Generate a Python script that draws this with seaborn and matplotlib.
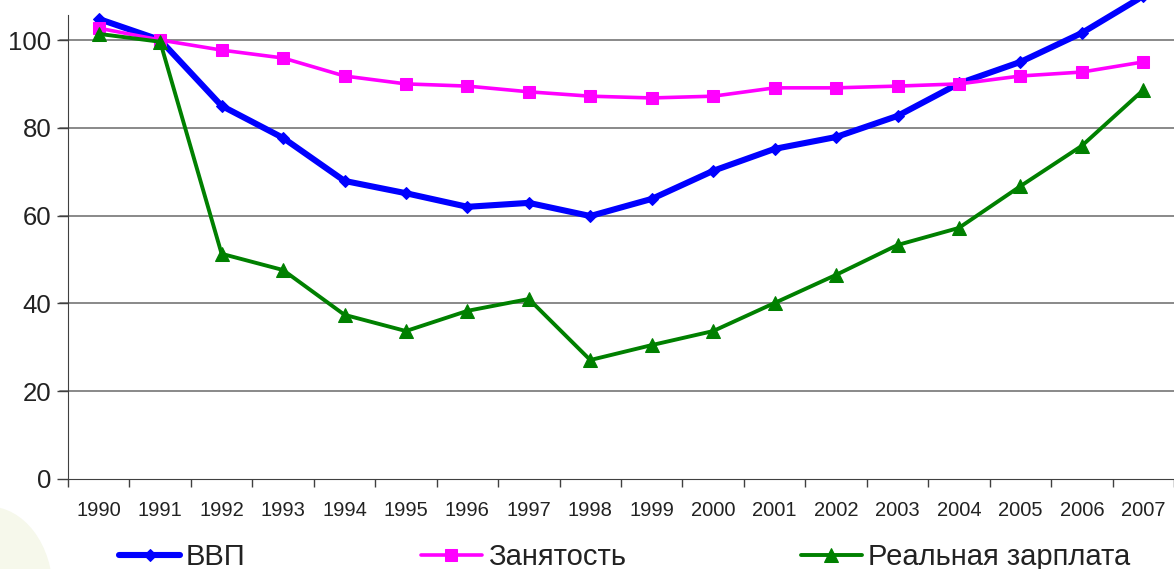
import numpy as np
import pandas as pd
import matplotlib
matplotlib.use("Agg")
import matplotlib.pyplot as plt
import seaborn as sns
from matplotlib.patches import Ellipse

# -----------------------
# Data (index, 1991 = 100)
# -----------------------
years = [str(y) for y in range(1990, 2008)]
gdp = [104.8, 100.0, 85.0, 77.7, 67.9, 65.1, 62.0, 62.9, 59.9, 63.8,
       70.2, 75.2, 77.9, 82.7, 90.1, 95.0, 101.6, 110.0]
employment = [102.7, 100.0, 97.7, 95.9, 91.8, 90.0, 89.5, 88.2, 87.2, 86.8,
              87.2, 89.1, 89.1, 89.5, 90.0, 91.8, 92.7, 95.0]
real_wage = [101.4, 99.6, 51.3, 47.6, 37.4, 33.7, 38.3, 41.0, 27.1, 30.5,
             33.7, 40.1, 46.5, 53.3, 57.2, 66.7, 75.9, 88.6]
labels = ["ВВП", "Занятость", "Реальная зарплата"]
y_ticks = [0, 20, 40, 60, 80, 100]

pos = np.arange(len(years))

sns.set_style("white")
plt.rcParams['font.family'] = ['Liberation Sans', 'DejaVu Sans']

fig = plt.figure(figsize=(11.74, 5.69), dpi=100)

# faint decorative background in the lower-left corner
fig.patches.append(Ellipse((-0.01, -0.04), 0.11, 0.3, transform=fig.transFigure,
                           facecolor="#f6f8eb", edgecolor="none", zorder=-1))

ax = fig.add_axes([68 / 1174, 90 / 569, 1 - 68 / 1174, 479 / 569])
ax.patch.set_alpha(0)

sns.lineplot(x=pos, y=gdp, ax=ax, color="#0000ff", lw=4.4, marker="D",
             markersize=6, markeredgecolor="#0000ff", label=labels[0])
sns.lineplot(x=pos, y=employment, ax=ax, color="#ff00ff", lw=2.6, marker="s",
             markersize=8, markeredgecolor="#ff00ff", label=labels[1])
sns.lineplot(x=pos, y=real_wage, ax=ax, color="#008000", lw=2.8, marker="^",
             markersize=10, markeredgecolor="#008000", label=labels[2])

ymax = 479 / 4.39
ax.set_ylim(0, ymax)
ax.set_xlim(-0.5, 17.35)

for y in y_ticks[1:]:
    ax.axhline(y, xmin=-8 / 1106, color="#808080", lw=1.3, zorder=0, clip_on=False)

ax.set_yticks(y_ticks)
ax.set_yticklabels([str(v) for v in y_ticks], fontsize=18.5, color="#222222")
ax.tick_params(axis="y", left=True, length=8, width=1, color="#404040", direction="out", pad=4)

ax.set_xticks(pos)
ax.set_xticklabels(years, fontsize=14.5, color="#222222")
ax.set_xticks(np.arange(-0.5, 18.0, 1.0), minor=True)
ax.tick_params(axis="x", which="major", bottom=False, length=0, pad=16)
ax.tick_params(axis="x", which="minor", bottom=True, length=6, width=1, color="#404040", direction="out")

for side in ["top", "right"]:
    ax.spines[side].set_visible(False)
ax.spines["left"].set_color("#404040")
ax.spines["bottom"].set_color("#404040")
ax.spines["left"].set_bounds(0, (479 - 15) / 4.39)

ax.get_legend().remove()
handles, lbls = ax.get_legend_handles_labels()
fig.legend(handles, lbls, loc="center left", bbox_to_anchor=(119 / 1174, 1 - 557 / 569),
           ncol=3, frameon=False, fontsize=21, handlelength=2.1, handletextpad=0.2,
           columnspacing=6.0, borderpad=0, borderaxespad=0, labelcolor="#222222")

fig.savefig("out.png", dpi=100)
